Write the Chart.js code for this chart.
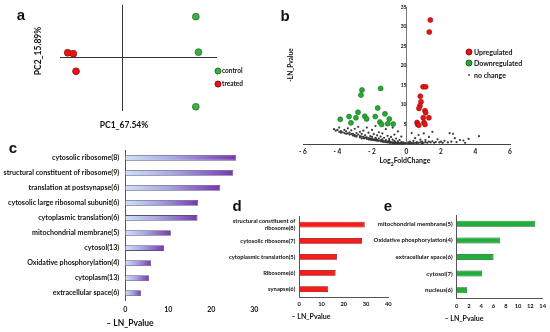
<!DOCTYPE html>
<html><head><meta charset="utf-8">
<script src="https://cdn.jsdelivr.net/npm/chart.js@4.4.1/dist/chart.umd.min.js"></script>
<style>
html,body{margin:0;padding:0;background:#fff;}
#wrap{position:relative;width:550px;height:332px;overflow:hidden;font-family:Lato,'Open Sans',sans-serif;color:#111;}
canvas{position:absolute;}
.t{position:absolute;white-space:nowrap;font-weight:bold;line-height:1;transform:translate(-50%,-50%);}
.l{position:absolute;white-space:nowrap;font-weight:bold;line-height:1;transform:translateY(-50%);}
.lt{position:absolute;font-family:'Liberation Sans',Arial,sans-serif;font-weight:bold;font-size:15px;line-height:1;transform:translate(-50%,-50%);}
.dot{position:absolute;border-radius:50%;transform:translate(-50%,-50%);}
</style></head><body><div id="wrap">
<canvas id="ca" width="275" height="135" style="left:0;top:0"></canvas>
<canvas id="cb" width="275" height="172" style="left:275px;top:0"></canvas>
<canvas id="cc" width="275" height="192" style="left:0;top:140px"></canvas>
<canvas id="cd" width="175" height="137" style="left:225px;top:195px"></canvas>
<canvas id="ce" width="180" height="137" style="left:370px;top:195px"></canvas>

<div class="lt" style="left:21px;top:14px">a</div>
<div class="t" style="left:124px;top:125px;font-size:8.5px">PC1_67.54%</div>
<div class="t" style="left:38px;top:51px;font-size:8.5px;transform:translate(-50%,-50%) rotate(-90deg)">PC2_15.89%</div>
<div class="dot" style="left:218px;top:71px;width:5px;height:5px;background:#3cb043;border:0.6px solid #2a6e2a"></div>
<div class="l" style="left:222px;top:71px;font-size:6.5px">control</div>
<div class="dot" style="left:218px;top:84px;width:5px;height:5px;background:#ee1111;border:0.6px solid #8a1010"></div>
<div class="l" style="left:222px;top:84px;font-size:6.5px">treated</div>

<div class="lt" style="left:285px;top:15px">b</div>
<div class="t" style="left:291px;top:65px;font-size:6.5px;transform:translate(-50%,-50%) rotate(-90deg)">-LN_Pvalue</div>
<div class="dot" style="left:469px;top:52px;width:5px;height:5px;background:#ee1111;border:0.6px solid #8a1010"></div>
<div class="l" style="left:474px;top:52px;font-size:7px">Upregulated</div>
<div class="dot" style="left:469px;top:63px;width:5px;height:5px;background:#22aa33;border:0.6px solid #1a6e22"></div>
<div class="l" style="left:474px;top:63px;font-size:7px">Downregulated</div>
<div class="dot" style="left:469px;top:75px;width:2px;height:2px;background:#555"></div>
<div class="l" style="left:474px;top:75px;font-size:7px">no change</div>
<div class="t" style="left:405px;top:162px;font-size:7px">Log<sub style="font-size:5px">2</sub>FoldChange</div>

<div class="lt" style="left:13px;top:147px">c</div>
<div class="t" style="left:130px;top:323px;font-size:8.5px">– LN_Pvalue</div>
<div class="lt" style="left:237px;top:205px">d</div>
<div class="t" style="left:311px;top:316px;font-size:7px">– LN_Pvalue</div>
<div class="lt" style="left:388px;top:205px">e</div>
<div class="t" style="left:464px;top:318px;font-size:7px">– LN_Pvalue</div>
</div>
<script>
// ---- Panel a: PCA scores ----
const pcaControlX = [4.65, 4.82, 4.65];
const pcaControlY = [3.88, 0.53, -4.63];
const pcaTreatedX = [-3.51, -3.15, -2.98];
const pcaTreatedY = [0.47, 0.38, -1.28];

// ---- Panel b: volcano (log2FC, -LN p) ----
const upregulated = [[1.38,31.7],[1.32,28.6],[0.96,14.6],[1.11,14.6],[0.80,12.2],[0.84,10.8],[0.78,9.8],[0.72,9.1],[1.07,8.5],[1.11,8.0],[1.30,6.7],[0.97,6.7],[0.61,5.5],[0.65,5.0],[0.71,4.8],[1.01,5.5],[1.07,5.0]];
const downregulated = [[-2.58,13.8],[-2.64,12.5],[-1.50,14.2],[-1.67,9.2],[-3.84,6.3],[-3.33,7.0],[-2.93,6.7],[-2.81,8.1],[-2.42,7.1],[-2.31,6.4],[-3.22,5.4],[-1.81,7.0],[-1.25,7.7],[-1.00,6.4],[-1.54,5.6],[-1.44,5.0],[-1.09,5.2],[-0.77,5.1]];
const noChange = [[-4.2,3.8],[-4.1,3.4],[-4.0,3.6],[-3.9,4.2],[-3.9,3.1],[-3.8,3.3],[-3.7,3.0],[-3.6,3.6],[-3.6,2.8],[-3.5,3.2],[-3.4,2.7],[-3.4,4.0],[-3.3,2.9],[-3.2,2.5],[-3.2,3.5],[-3.1,2.6],[-3.0,2.3],[-3.0,3.9],[-2.9,2.8],[-2.9,2.1],[-2.8,2.4],[-2.8,4.4],[-2.7,2.0],[-2.7,3.1],[-2.6,1.9],[-2.6,2.6],[-2.5,1.8],[-2.5,3.4],[-2.4,2.2],[-2.4,1.6],[-2.3,4.2],[-2.3,1.7],[-2.2,1.5],[-2.2,2.9],[-2.1,1.4],[-2.1,2.0],[-2.0,1.3],[-2.0,3.6],[-2.0,1.8],[-1.9,1.2],[-1.9,2.5],[-1.8,1.1],[-1.8,4.6],[-1.8,1.6],[-1.7,1.0],[-1.7,2.2],[-1.6,0.9],[-1.6,3.0],[-1.6,1.4],[-1.5,0.9],[-1.5,1.9],[-1.4,0.8],[-1.4,2.7],[-1.4,1.2],[-1.3,0.7],[-1.3,1.6],[-1.2,0.7],[-1.2,3.8],[-1.2,1.0],[-1.1,0.6],[-1.1,2.1],[-1.0,0.5],[-1.0,1.3],[-1.0,0.9],[-0.9,0.5],[-0.9,1.8],[-0.8,0.4],[-0.8,1.1],[-0.8,4.2],[-0.7,0.4],[-0.7,0.8],[-0.7,2.4],[-0.6,0.3],[-0.6,1.4],[-0.5,0.3],[-0.5,0.7],[-0.5,3.2],[-0.4,0.2],[-0.4,1.0],[-0.3,0.2],[-0.3,0.5],[-0.3,1.9],[-0.2,0.1],[-0.2,0.4],[-0.1,0.1],[-0.1,0.3],[0,0.05],
[-3.8,2.9],[-3.5,2.6],[-3.3,2.4],[-3.1,2.2],[-2.9,1.9],[-2.7,1.7],[-2.5,1.5],[-2.3,1.3],[-2.1,1.1],[-1.9,1.0],[-1.7,0.8],[-1.5,0.7],[-1.3,0.5],[-1.1,0.4],[-0.9,0.3],[-0.7,0.2],[-0.5,0.15],[-0.3,0.1],[-2.6,1.4],[-2.2,1.2],[-1.8,0.9],[-1.4,0.6],[-1.0,0.35],[-0.6,0.2],[-3.0,2.0],[-2.0,1.0],[-1.2,0.5],[-0.8,0.25],
[-2.45,1.45],[-2.15,1.25],[-1.85,1.05],[-1.65,0.85],[-1.35,0.65],[-1.15,0.5],[-0.95,0.4],[-0.75,0.3],[-0.55,0.25],[-0.35,0.15],[-0.15,0.05],[-1.75,1.3],[-1.45,1.0],[-1.05,0.7],[-0.65,0.5],
[0.1,0.1],[0.1,0.4],[0.2,0.2],[0.2,0.6],[0.3,0.1],[0.3,0.3],[0.3,2.8],[0.4,0.2],[0.4,0.8],[0.5,0.3],[0.5,1.5],[0.6,0.2],[0.6,0.5],[0.7,0.3],[0.7,2.3],[0.8,0.4],[0.8,1.1],[0.9,0.2],[0.9,0.6],[1.0,0.3],[1.0,2.7],[1.1,0.5],[1.1,1.0],[1.2,0.3],[1.3,0.6],[1.3,1.8],[1.4,0.4],[1.5,3.1],[1.5,0.7],[1.6,0.3],[1.7,0.5],[1.8,1.2],[1.9,0.4],[2.0,0.6],[2.1,0.3],[2.2,0.8],[2.4,0.4],[2.5,2.8],[2.6,0.6],[2.7,2.6],[2.8,1.5],[2.9,0.5],[3.1,1.0],[3.3,0.9],[3.4,0.3],[3.6,1.3],[4.2,2.0]];

// ---- Panel c ----
const cCategories = ['cytosolic ribosome(8)','structural constituent of ribosome(9)','translation at postsynapse(6)','cytosolic large ribosomal subunit(6)','cytoplasmic translation(6)','mitochondrial membrane(5)','cytosol(13)','Oxidative phosphorylation(4)','cytoplasm(13)','extracellular space(6)'];
const cValues = [25.8, 25.1, 22.1, 16.9, 16.8, 10.6, 9.0, 6.0, 5.5, 3.7];
// ---- Panel d ----
const dCategories = [['structural constituent of','ribosome(8)'],'cytosolic ribosome(7)','cytoplasmic translation(5)','Ribosome(6)','synapse(6)'];
const dValues = [29.4, 28.2, 16.9, 16.3, 13.0];
// ---- Panel e ----
const eCategories = ['mitochondrial membrane(5)','Oxidative phosphorylation(4)','extracellular space(6)','cytosol(7)','nucleus(6)'];
const eValues = [12.8, 7.1, 6.0, 4.1, 1.7];

const zip = (xs, ys) => xs.map((x, i) => ({x, y: ys[i]}));
const pairs = arr => arr.map(p => ({x: p[0], y: p[1]}));
Chart.defaults.font.family = 'Lato';
Chart.defaults.color = '#111';
const noPlug = {legend: {display: false}, tooltip: {enabled: false}};

// Panel a
new Chart(document.getElementById('ca'), {
  type: 'scatter',
  data: {datasets: [
    {label: 'control', data: zip(pcaControlX, pcaControlY), backgroundColor: '#3cb043', borderColor: '#2a6e2a', borderWidth: 0.8, pointRadius: 3.4},
    {label: 'treated', data: zip(pcaTreatedX, pcaTreatedY), backgroundColor: '#ee1111', borderColor: '#8a1010', borderWidth: 0.8, pointRadius: 3.4}
  ]},
  options: {
    responsive: false, animation: false,
    layout: {padding: {left: 60, right: 58, top: 4, bottom: 0}},
    plugins: noPlug,
    scales: {
      x: {min: -4, max: 6, ticks: {display: false, stepSize: 1}, border: {display: false},
          grid: {drawTicks: false, color: c => (c.tick && c.tick.value === 0) ? '#333' : 'rgba(0,0,0,0)'},
          afterFit: s => { s.height = 24.3; }},
      y: {min: -5, max: 5, ticks: {display: false, stepSize: 1}, border: {display: false},
          grid: {drawTicks: false, color: c => (c.tick && c.tick.value === 0) ? '#333' : 'rgba(0,0,0,0)'},
          afterFit: s => { s.width = 0; }}
    }
  }
});

// Panel b
new Chart(document.getElementById('cb'), {
  type: 'scatter',
  data: {datasets: [
    {label: 'no change', data: pairs(noChange), backgroundColor: '#3a3a3a', borderWidth: 0, pointRadius: 1.1},
    {label: 'Downregulated', data: pairs(downregulated), backgroundColor: '#22aa33', borderColor: '#1a6e22', borderWidth: 0.6, pointRadius: 2.5},
    {label: 'Upregulated', data: pairs(upregulated), backgroundColor: '#ee1111', borderColor: '#8a1010', borderWidth: 0.6, pointRadius: 2.5}
  ]},
  options: {
    responsive: false, animation: false,
    layout: {padding: {left: 28, right: 40, top: 5, bottom: 0}},
    plugins: noPlug,
    scales: {
      x: {type: 'linear', min: -6, max: 6,
          ticks: {stepSize: 2, padding: 4, autoSkip: false, maxRotation: 0, font: {size: 6.5, weight: 'bold'}, callback: v => v < 0 ? '- ' + Math.abs(v) : String(v)},
          grid: {display: false, drawTicks: false}, border: {display: true, color: '#444'},
          afterFit: s => { s.height = 28; }},
      y: {min: 0, max: 35, position: {x: 0},
          ticks: {stepSize: 5, padding: 4, font: {size: 5, weight: 'bold'}, callback: v => v === 0 ? '' : String(v)},
          grid: {display: false, drawTicks: false}, border: {display: true, color: '#777'}}
    }
  }
});

function purpleGrad(ctx) {
  const ch = ctx.chart;
  if (!ch.chartArea || ctx.type !== 'data') return '#9b7fd0';
  const xs = ch.scales.x;
  const x0 = xs.getPixelForValue(0), x1 = xs.getPixelForValue(ctx.raw);
  const g = ch.ctx.createLinearGradient(x0, 0, x1, 0);
  g.addColorStop(0, '#cfe2f8');
  g.addColorStop(0.45, '#a4a6e0');
  g.addColorStop(1, '#7636b0');
  return g;
}

function barChart(id, cats, vals, color, border, cfg) {
  return new Chart(document.getElementById(id), {
    type: 'bar',
    data: {labels: cats, datasets: [{data: vals, backgroundColor: color, borderColor: border, borderWidth: 0.8,
      barPercentage: cfg.barPct, categoryPercentage: 1}]},
    options: {
      indexAxis: 'y', responsive: false, animation: false,
      layout: {padding: {left: 0, right: cfg.right, top: cfg.top, bottom: 0}},
      plugins: noPlug,
      scales: {
        x: {min: 0, max: cfg.max, ticks: {stepSize: cfg.step, padding: cfg.xpad, autoSkip: false, maxRotation: 0, font: {size: cfg.xfont, weight: 'bold'}},
            grid: {display: false, drawTicks: false}, border: {display: cfg.xborder, color: '#555'},
            afterFit: s => { s.height = cfg.xh; }},
        y: {ticks: {padding: cfg.ypad, font: {size: cfg.yfont, weight: 'bold'}, autoSkip: false},
            grid: {display: false, drawTicks: false}, border: {display: true, color: '#555'},
            afterFit: s => { s.width = cfg.yw; }}
      }
    }
  });
}

barChart('cc', cCategories, cValues, purpleGrad, '#5e4e80',
  {barPct: 0.38, right: 20.7, top: 7.3, max: 30, step: 10, xpad: 5, xfont: 7, xborder: false, xh: 31.3, ypad: 6, yfont: 7.1, yw: 125.3});
barChart('cd', dCategories, dValues, '#ff1a1a', '#7a0000',
  {barPct: 0.36, right: 11.7, top: 21.65, max: 40, step: 10, xpad: 4, xfont: 5.8, xborder: true, xh: 34.9, ypad: 4, yfont: 5.8, yw: 74.3});
barChart('ce', eCategories, eValues, '#1fb03c', '#145a1e',
  {barPct: 0.36, right: 5, top: 20.5, max: 14, step: 2, xpad: 4, xfont: 5.8, xborder: true, xh: 33.5, ypad: 4, yfont: 6.1, yw: 86.7});
</script>
</body></html>
